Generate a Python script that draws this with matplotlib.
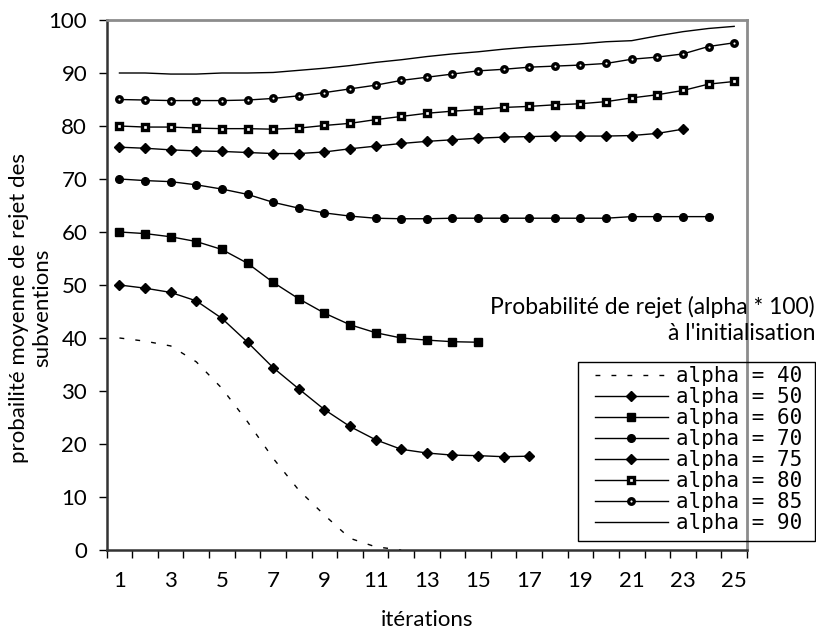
import numpy as np
import matplotlib
matplotlib.use("Agg")
import matplotlib.pyplot as plt
from matplotlib.patches import Rectangle

plt.rcParams['font.family'] = ['Lato', 'DejaVu Sans']

# values (x = iteration number)
a40 = [40, 39.4, 38.5, 35.5, 30.5, 24.2, 17.3, 11.3, 6.6, 2.2, 0.6, 0]
a50 = [50, 49.4, 48.6, 47.0, 43.7, 39.2, 34.4, 30.4, 26.5, 23.3, 20.8, 19.0,
       18.3, 17.9, 17.8, 17.6, 17.7]
a60 = [60, 59.7, 59.1, 58.2, 56.7, 54.1, 50.5, 47.4, 44.7, 42.5, 41.0, 40.0,
       39.6, 39.3, 39.2]
a70 = [70, 69.7, 69.5, 68.9, 68.1, 67.1, 65.6, 64.5, 63.6, 63.0, 62.6, 62.5,
       62.5, 62.6, 62.6, 62.6, 62.6, 62.6, 62.6, 62.6, 62.9, 62.9, 62.9, 62.9]
a75 = [76.0, 75.8, 75.5, 75.3, 75.2, 75.0, 74.8, 74.8, 75.1, 75.7, 76.2, 76.7,
       77.1, 77.4, 77.7, 77.9, 78.0, 78.1, 78.1, 78.1, 78.2, 78.6, 79.4]
a80 = [80, 79.8, 79.8, 79.6, 79.5, 79.5, 79.4, 79.6, 80.1, 80.5, 81.2, 81.8,
       82.4, 82.8, 83.1, 83.5, 83.7, 84.0, 84.2, 84.6, 85.3, 85.9, 86.7, 87.9, 88.4]
a85 = [85.0, 84.9, 84.8, 84.8, 84.8, 84.9, 85.2, 85.7, 86.3, 87.0, 87.7, 88.6,
       89.2, 89.8, 90.4, 90.7, 91.1, 91.3, 91.5, 91.8, 92.6, 93.0, 93.6, 95.0, 95.7]
a90 = [90, 90, 89.8, 89.8, 90, 90, 90.1, 90.5, 90.9, 91.4, 92.0, 92.5, 93.1,
       93.6, 94.0, 94.5, 94.9, 95.2, 95.5, 95.9, 96.1, 97.0, 97.8, 98.4, 98.8]

fig = plt.figure(figsize=(8.16, 6.31), dpi=100)
ax = fig.add_axes([0.1307, 0.1284, 0.7847, 0.8399])

def x_of(v):
    return np.arange(1, len(v) + 1)

ms = 5.5
ax.plot(x_of(a40), a40, color='black', lw=1, dashes=(3.5, 8), label='alpha = 40')
ax.plot(x_of(a50), a50, color='black', lw=1, marker='D', ms=ms - 0.5, label='alpha = 50')
ax.plot(x_of(a60), a60, color='black', lw=1, marker='s', ms=ms, label='alpha = 60')
ax.plot(x_of(a70), a70, color='black', lw=1, marker='o', ms=ms, label='alpha = 70')
ax.plot(x_of(a75), a75, color='black', lw=1, marker='D', ms=ms - 0.5, label='alpha = 75')
# open markers: mostly black with a small white centre
ax.plot(x_of(a80), a80, color='black', lw=1, marker='s', ms=4, mfc='white',
        mec='black', mew=2.4, label='alpha = 80')
ax.plot(x_of(a85), a85, color='black', lw=1, marker='o', ms=4, mfc='white',
        mec='black', mew=2.4, label='alpha = 85')
ax.plot(x_of(a90), a90, color='black', lw=1, label='alpha = 90')

ax.set_xlim(0.5, 25.5)
ax.set_ylim(0, 100)
ax.set_yticks(np.arange(0, 101, 10))
ax.set_xticks(np.arange(0.5, 26, 1))
ax.set_xticklabels([])
ax.set_xticks(np.arange(1, 26, 2), minor=True)
ax.set_xticklabels([str(i) for i in range(1, 26, 2)], minor=True)
ax.tick_params(axis='x', which='major', length=6, width=1, direction='out')
ax.tick_params(axis='x', which='minor', length=0, pad=15, labelsize=16)
ax.tick_params(axis='y', length=6, width=1, direction='out', pad=8, labelsize=16)

for s in ['left', 'bottom']:
    ax.spines[s].set_color('#333333')
    ax.spines[s].set_linewidth(1.8)
for s in ['top', 'right']:
    ax.spines[s].set_color('#8c8c8c')
    ax.spines[s].set_linewidth(2)

fig.text(427 / 816, 1 - 620 / 631, 'itérations', ha='center', va='center', fontsize=16)
fig.text(31 / 816, 1 - 308 / 631, 'probailité moyenne de rejet des\nsubventions',
         rotation=90, ha='center', va='center', multialignment='center', fontsize=16)

fig.text(815 / 816, 1 - 320 / 631, "Probabilité de rejet (alpha * 100)\nà l'initialisation",
         ha='right', va='center', multialignment='right', fontsize=16.5, linespacing=1.3)

# legend box drawn separately so its padding matches the reference
fig.patches.append(Rectangle((578 / 816, 1 - 541 / 631), 237 / 816, 179 / 631,
                             transform=fig.transFigure, fill=False,
                             ec='black', lw=1))
leg = ax.legend(loc='upper left', bbox_to_anchor=(595 / 816, 1 - 366 / 631),
                bbox_transform=fig.transFigure, frameon=False,
                prop={'family': 'DejaVu Sans Mono', 'size': 15},
                handlelength=3.5, handletextpad=0.4, labelspacing=0.05,
                borderpad=0, borderaxespad=0)

fig.savefig('out.png', dpi=100)
